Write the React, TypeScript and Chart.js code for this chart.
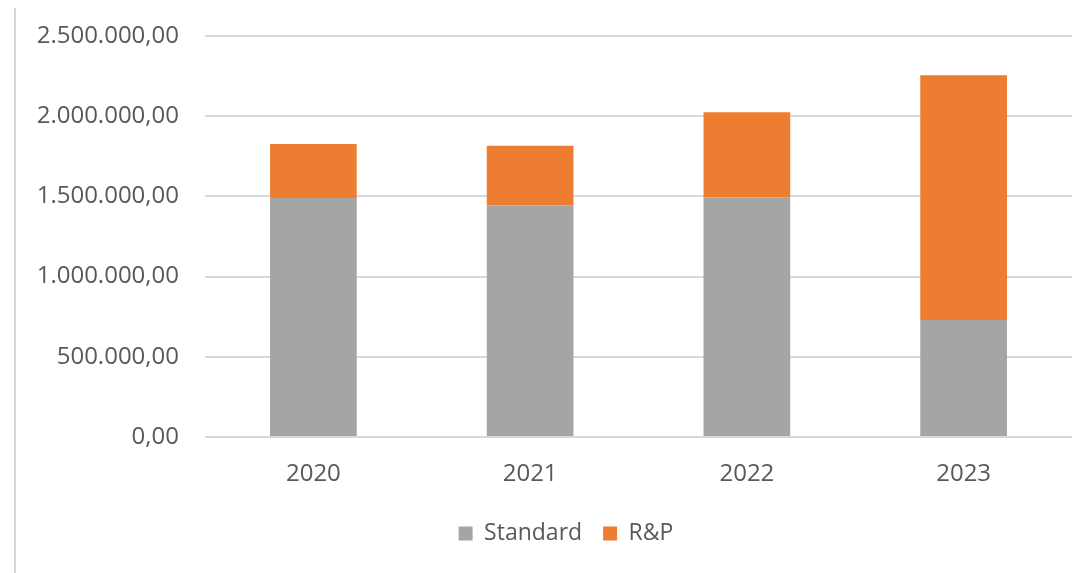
import React, { useEffect, useRef } from "react";
import { Chart, registerables } from "chart.js";

Chart.register(...registerables);

const categories = ["2020", "2021", "2022", "2023"];
const standardValues = [1490000, 1445000, 1495000, 730000];
const rpValues = [336000, 370000, 530000, 1525000];
const seriesNames = ["Standard", "R&P"];
const yMax = 2500000;
const yStep = 500000;

function formatDE(v: number): string {
  const fixed = Math.abs(v).toFixed(2);
  const [intPart, dec] = fixed.split(".");
  const withDots = intPart.replace(/\B(?=(\d{3})+(?!\d))/g, ".");
  return (v < 0 ? "-" : "") + withDots + "," + dec;
}

const legendShift = {
  id: "legendShift",
  afterLayout(chart: any) {
    const lg = chart.legend;
    if (lg) {
      lg.left = 60;
      lg.right = chart.chartArea.right;
    }
  },
};

export default function App() {
  const ref = useRef<HTMLCanvasElement | null>(null);

  useEffect(() => {
    if (!ref.current) return;
    const font = { family: "'Open Sans', 'Noto Sans', sans-serif", size: 24 };
    const chart = new Chart(ref.current, {
      type: "bar",
      data: {
        labels: categories,
        datasets: [
          {
            label: seriesNames[0],
            data: standardValues,
            backgroundColor: "#a5a5a5",
            categoryPercentage: 0.8,
            barPercentage: 0.5,
          },
          {
            label: seriesNames[1],
            data: rpValues,
            backgroundColor: "#ed7d31",
            categoryPercentage: 0.8,
            barPercentage: 0.5,
          },
        ],
      },
      plugins: [legendShift],
      options: {
        animation: false,
        responsive: false,
        maintainAspectRatio: false,
        layout: { padding: { top: 36, left: 0, right: 17, bottom: 18 } },
        plugins: {
          tooltip: { enabled: false },
          legend: {
            position: "bottom",
            labels: {
              boxWidth: 14,
              boxHeight: 14,
              padding: 21,
              color: "#595959",
              font: { ...font, size: 23 },
            },
          },
        },
        scales: {
          x: {
            stacked: true,
            grid: { display: false },
            border: { display: false },
            ticks: { color: "#595959", font, padding: 15 },
            afterFit: (scale: any) => {
              scale.height = 64;
            },
          },
          y: {
            stacked: true,
            min: 0,
            max: yMax,
            border: { display: false },
            grid: { color: "#d9d9d9", lineWidth: 2, drawTicks: false },
            ticks: {
              stepSize: yStep,
              color: "#595959",
              font,
              padding: 26,
              callback: (v: any) => formatDE(Number(v)),
            },
            afterFit: (scale: any) => {
              scale.width = 205;
              scale.paddingTop = 0;
              scale.paddingBottom = 0;
            },
          },
        },
      },
    });
    return () => chart.destroy();
  }, []);

  return (
    <div
      style={{
        position: "fixed",
        left: 0,
        top: 0,
        width: 1089,
        height: 573,
        background: "#ffffff",
      }}
    >
      <div
        style={{
          position: "absolute",
          left: 14,
          top: 8,
          width: 2,
          height: 565,
          background: "#d6d6d6",
        }}
      />
      <canvas
        ref={ref}
        width={1089}
        height={573}
        style={{ position: "absolute", left: 0, top: 0, width: 1089, height: 573 }}
      />
    </div>
  );
}
